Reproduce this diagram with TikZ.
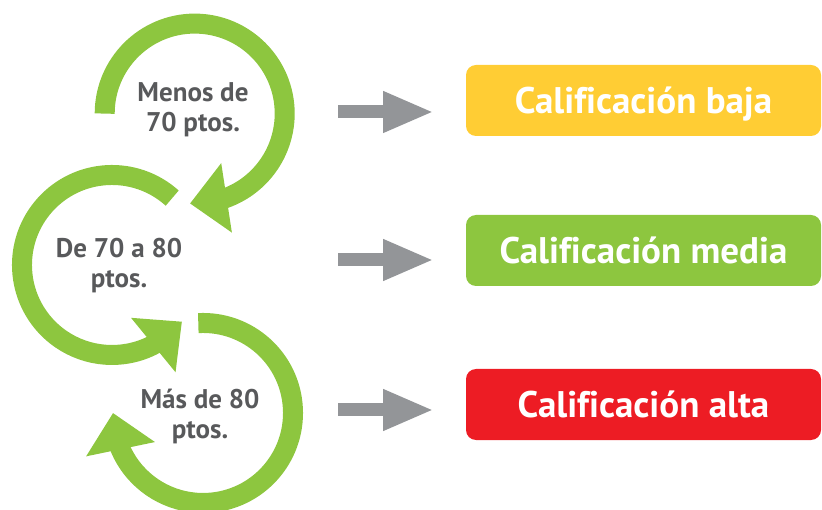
\documentclass[tikz,border=0pt]{standalone}
\usepackage{fontspec}
\setmainfont{PT Sans}[Ligatures=CommonOff]
\usetikzlibrary{arrows.meta,bending}
\definecolor{cgreen}{RGB}{141,198,63}
\definecolor{cyellow}{RGB}{255,205,52}
\definecolor{cred}{RGB}{237,28,36}
\definecolor{cgray}{RGB}{147,149,152}
\definecolor{ctext}{RGB}{88,89,91}

\begin{document}
\begin{tikzpicture}[x=1pt, y=1pt,
  greenarc/.style={draw=cgreen, line width=20pt, -{Triangle[length=37pt, width=68pt]}},
  grayarrow/.style={draw=cgray, line width=13pt, -{Triangle[length=51pt, width=38pt]}},
  scorelabel/.style={text=ctext, font=\bfseries\fontsize{27}{30}\selectfont, align=center},
  grade/.style={rounded corners=10pt, minimum width=355pt, minimum height=71pt, inner sep=0pt,
    text height=26pt, text depth=0pt, text=white, font=\bfseries\fontsize{37}{40}\selectfont}]
  \useasboundingbox (0,0) rectangle (822,-510);

  % circular arrows
  \draw[greenarc] (104.7,-113.6) arc[start angle=180, end angle=-93, radius=90];
  \draw[greenarc] (172.2,-198.1) arc[start angle=48, end angle=321, radius=90];
  \draw[greenarc] (198.3,-323.1) arc[start angle=93, end angle=-180, radius=90];

  \node[scorelabel] (under) at (193,-110) {Menos de\\70 ptos.};
  \node[scorelabel] (between) at (119,-266) {De 70 a 80\\ptos.};
  \node[scorelabel] (over) at (200,-416) {Más de 80\\ptos.};

  % results
  \node[grade, fill=cyellow] (low) at (643.5,-100.5) {Calificación baja};
  \node[grade, fill=cgreen] (mid) at (643.5,-250.5) {Calificación media};
  \node[grade, fill=cred] (high) at (643.5,-404.5) {Calificación alta};

  \coordinate (from1) at (338,-112);
  \coordinate (to1) at (434,-112);
  \coordinate (from2) at (338,-260);
  \coordinate (to2) at (434,-260);
  \coordinate (from3) at (338,-410);
  \coordinate (to3) at (434,-410);
  \draw[grayarrow] (from1) -- (to1);
  \draw[grayarrow] (from2) -- (to2);
  \draw[grayarrow] (from3) -- (to3);
\end{tikzpicture}
\end{document}
